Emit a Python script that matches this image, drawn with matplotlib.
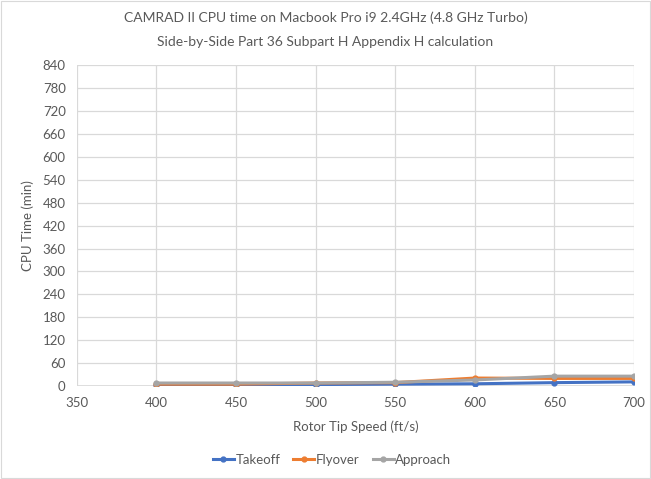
import matplotlib.pyplot as plt
from matplotlib.patches import Rectangle

# rotor tip speed sweep and CPU minutes per case
tip_speed = [400, 450, 500, 550, 600, 650, 700]
takeoff = [3, 3, 4, 5, 6, 9, 11]
flyover = [5, 5, 8, 9, 21, 20, 20]
approach = [8, 8, 8, 10, 16, 26, 26]

plt.rcParams['font.family'] = ['Lato', 'DejaVu Sans']
txt = '#595959'
grid = '#d9d9d9'

fig = plt.figure(figsize=(6.51, 4.79), dpi=100)
fig.patches.append(Rectangle((0.002, 0.002), 0.996, 0.996, transform=fig.transFigure,
                             fill=False, edgecolor=grid, linewidth=0.8))
ax = fig.add_axes([0.118, 0.194, 0.856, 0.670])

ax.plot(tip_speed, takeoff, color='#4472C4', lw=2.2, marker='o', ms=3.5, label='Takeoff')
ax.plot(tip_speed, flyover, color='#ED7D31', lw=2.2, marker='o', ms=3.5, label='Flyover')
ax.plot(tip_speed, approach, color='#A5A5A5', lw=2.2, marker='o', ms=3.5, label='Approach')

ax.set_xlim(350, 700)
ax.set_ylim(0, 840)
ax.set_xticks(range(350, 701, 50))
ax.set_yticks(range(0, 841, 60))
ax.grid(True, color=grid, lw=0.9)
ax.set_axisbelow(True)
for s in ax.spines.values():
    s.set_visible(False)
ax.axhline(0, color=grid, lw=1.2, zorder=0)
ax.axvline(350, color=grid, lw=1.2, zorder=0)
ax.tick_params(length=0, colors=txt, labelsize=9.5, pad=8)

ax.set_xlabel('Rotor Tip Speed (ft/s)', color=txt, fontsize=9.5, labelpad=8)
ax.set_ylabel('CPU Time (min)', color=txt, fontsize=9.5, labelpad=6)

fig.text(0.5, 0.963, 'CAMRAD II CPU time on Macbook Pro i9 2.4GHz (4.8 GHz Turbo)',
         ha='center', va='center', color=txt, fontsize=10)
fig.text(0.5, 0.912, 'Side-by-Side Part 36 Subpart H Appendix H calculation',
         ha='center', va='center', color=txt, fontsize=10)

fig.legend(loc='center', bbox_to_anchor=(0.51, 0.04), ncol=3, frameon=False,
           fontsize=9.5, labelcolor=txt, handlelength=1.6, handletextpad=0.1,
           columnspacing=1.0)

fig.savefig('out.png', dpi=100)
